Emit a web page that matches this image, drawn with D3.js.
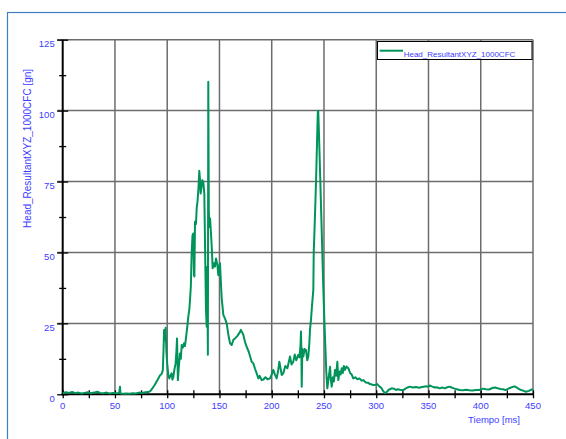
<!DOCTYPE html>
<html>
<head>
<meta charset="utf-8">
<script src="https://cdn.jsdelivr.net/npm/d3@7"></script>
<style>
  html, body { margin: 0; padding: 0; background: #fff; }
  svg { display: block; }
  text { font-family: "Liberation Sans", Arial, sans-serif; }
</style>
</head>
<body>
<svg id="chart" width="566" height="439"></svg>
<script>
// Head resultant acceleration (CFC 1000) versus time
const seriesName = "Head_ResultantXYZ_1000CFC";
const xTitle = "Tiempo [ms]";
const yTitle = "Head_ResultantXYZ_1000CFC [gn]";

const xTicks = [0, 50, 100, 150, 200, 250, 300, 350, 400, 450];
const yTicks = [0, 25, 50, 75, 100, 125];

// time [ms]
const timeMs = [
  0, 3, 6, 9, 12, 15, 18, 21, 24, 27, 30, 33, 36, 39, 42, 45, 48, 51, 54, 54.8, 55.3, 58, 61, 64, 67, 70, 73, 76, 79, 82,
  84, 86, 88, 90, 91.5, 93, 94.7, 95.8, 96.5, 97, 97.8, 98.5, 99.2, 100, 101, 102, 103, 104.2, 105, 105.8, 106.8, 108, 108.8, 109.4, 110.2,
  111, 112.2, 113, 113.9, 115, 116, 117, 118, 119.2, 120.2, 121.2, 121.8, 122.6, 123.4, 124.2, 125, 125.6, 126, 126.6, 127.5, 128.2, 129,
  129.8, 130.7, 131.3, 132, 132.8, 133.6, 134.5, 135.5, 136.3, 137.1, 137.8, 138.4, 138.9, 139.3, 139.8, 140.3, 141, 141.6, 142.6, 143.5,
  144.8, 145.7, 146.7, 148, 148.9, 149.7, 150.5, 151.3, 152.1, 153.7, 155.5, 156.9, 158.5, 160.1, 161.7, 163.3, 164.9, 167, 169.7, 170.5,
  172.8, 174.4, 176, 178, 180.8, 182.4, 184, 185.6, 187.2, 188.5, 190.4, 192, 194, 196, 198.4, 200, 201.5, 203, 204.7, 206, 207.3, 208.5,
  209.6, 211.1, 213, 215, 217.5, 219, 220.7, 222, 223.5, 225.4, 226.5, 227.5, 228, 228.4, 228.7, 229.3, 230.2, 231.5, 232.8, 234, 235,
  236, 236.6, 237.5, 238.5, 239.8, 240.2, 241.3, 242.4, 243.3, 244.1, 244.5, 245.2, 246.5, 247.5, 248.4, 249.4, 250.7, 251.5, 252.2,
  253.2, 254.2, 255.8, 256.6, 257.4, 258.5, 259.5, 260.5, 261.6, 262.8, 263.7, 265, 266, 267, 268, 269, 270.1, 271.5, 273.3, 275, 276.5,
  278, 280, 282, 284, 286, 287.6, 290, 292, 294, 297.2, 299.1, 301, 303, 305, 306.5, 308.4, 310, 312, 314.8, 317, 319, 320.5, 322.7,
  325.6, 328, 330, 332, 335, 338, 341, 344, 347.9, 350, 351.2, 353, 356, 358, 360.7, 363, 366, 368, 370.3, 372, 375, 377, 379.9, 383,
  386, 389, 392, 395.7, 398.6, 402.2, 405, 408, 411.7, 414, 416, 419, 421.3, 423.6, 426, 429, 432.1, 434, 436, 438, 440.4, 443.3, 446,
  448, 450
];

// acceleration [gn]
const accelG = [
  0.4, 0.7, 0.5, 0.8, 0.4, 0.6, 0.3, 0.5, 0.7, 0.4, 0.6, 0.9, 0.5, 0.4, 0.6, 0.3, 0.5, 0.4, 0.5, 2.7, 0.3, 0.2, 0.3, 0.2, 0.4, 0.3, 0.6, 0.5, 0.7, 0.8,
  1.2, 2.2, 3.3, 4.6, 5.6, 6.6, 7.2, 8.5, 16, 22.7, 19, 23.5, 15, 10.9, 7, 5.6, 6.5, 7.4, 5.2, 6.0, 8.5, 10.9, 15, 19.7, 5,
  9, 14.4, 12.5, 17.4, 16.5, 18, 17, 20, 23.8, 27.4, 30, 33.2, 38, 49.7, 56, 56.7, 42, 41.5, 60.8, 60, 65.6, 68,
  72, 78.8, 76, 70.8, 73, 75.5, 74.9, 70.8, 50, 29.7, 23.8, 45, 13.9, 110.2, 65, 59, 62, 58.5, 52, 44.4,
  46.2, 45, 47.9, 45.6, 42, 45, 46.2, 40, 34, 28, 26.5, 25, 21, 18, 17.4, 19.2, 19.7, 20.5, 22, 22.7,
  21, 18.5, 16.8, 15, 11.5, 10.9, 9, 7.4, 5.6, 6.5, 5, 5.2, 6, 5.3, 5.6, 7, 8.6, 7, 5.6, 8, 11.5, 9,
  6.8, 7.4, 10, 9.2, 13.3, 10.5, 11.5, 14, 12, 13.9, 13, 17, 22.1, 15, 2.7, 16, 13.3, 16, 15.6, 12, 13.3,
  18, 22.7, 26, 31, 36.8, 50, 62, 75, 88, 99.5, 99.9, 92, 75, 62, 50, 36.8, 22.7, 15, 8,
  2.1, 5, 9.7, 5, 2.7, 6, 4.5, 8.6, 6.5, 11.5, 5, 8, 7, 9.2, 7.5, 10, 8.6, 9.8, 9.2, 7.5, 7,
  5.6, 6, 5.3, 5.6, 4.8, 5, 4.2, 4.1, 3.6, 3.3, 3.3, 3.6, 2.8, 2.2, 1.2, 0.4, 0.8, 1.6, 2.1, 2.0, 1.5, 1.8, 1.6,
  1.4, 2.0, 2.4, 2.7, 2.4, 2.6, 2.3, 2.6, 2.8, 2.7, 3.1, 2.8, 2.4, 2.5, 2.1, 2.4, 2.1, 2.5, 2.7, 2.4, 2.0, 1.8, 1.5, 1.4,
  1.6, 1.4, 1.3, 1.5, 1.5, 2.0, 1.8, 1.7, 2.3, 2.4, 2.1, 1.9, 1.8, 1.5, 1.9, 2.4, 2.8, 2.5, 2.0, 1.6, 1.3, 0.9, 1.2,
  1.6, 1.8
];

const green = "#00945a";
const blue = "#3c3cff";
const frameBlue = "#3f7fc4";
const gridGray = "#6c6c6c";

const svg = d3.select("#chart");

// outer panel frame
svg.append("rect")
  .attr("x", 7.5).attr("y", 12.5)
  .attr("width", 620).attr("height", 500)
  .attr("fill", "none").attr("stroke", frameBlue).attr("stroke-width", 1.2);

const x = d3.scaleLinear().domain([0, 450]).range([62.7, 533]);
const y = d3.scaleLinear().domain([0, 125]).range([394.3, 39.7]);

const [x0, x1] = x.range();
const [y0, y1] = y.range();

// grid
const grid = svg.append("g");
grid.selectAll("line.v")
  .data(xTicks.filter(d => d > 0))
  .join("line")
  .attr("x1", d => x(d)).attr("x2", d => x(d))
  .attr("y1", y1).attr("y2", y0)
  .attr("stroke", gridGray).attr("stroke-width", 1.5);
grid.selectAll("line.h")
  .data(yTicks.filter(d => d > 0))
  .join("line")
  .attr("x1", x0 - 5.5).attr("x2", x1)
  .attr("y1", d => y(d)).attr("y2", d => y(d))
  .attr("stroke", gridGray).attr("stroke-width", 1.5);

// axes with cross ticks (major + minor)
const xAxis = d3.axisBottom(x)
  .tickValues(d3.range(0, 451, 25))
  .tickSize(4).tickFormat("");
const gx = svg.append("g").attr("transform", `translate(0,${y0})`).call(xAxis);
gx.select(".domain").remove();
gx.selectAll(".tick line").attr("y1", -4).attr("stroke", "#000").attr("stroke-width", 1.3);

const yAxis = d3.axisLeft(y)
  .tickValues(d3.range(0, 125.1, 12.5))
  .tickSize(3.5).tickFormat("");
const gy = svg.append("g").attr("transform", `translate(${x0},0)`).call(yAxis);
gy.select(".domain").remove();
gy.selectAll(".tick line")
  .attr("x2", d => (d % 25 === 0 ? 5.5 : 3.5))
  .attr("x1", d => (d % 25 === 0 ? -5.5 : -3.5))
  .attr("stroke", "#000").attr("stroke-width", 1.3);

// axis lines
svg.append("line").attr("x1", x0).attr("x2", x0).attr("y1", y1).attr("y2", y0 + 1)
  .attr("stroke", "#000").attr("stroke-width", 2);
svg.append("line").attr("x1", x0 - 1).attr("x2", x1).attr("y1", y0).attr("y2", y0)
  .attr("stroke", "#000").attr("stroke-width", 2);

// tick labels
svg.append("g").selectAll("text")
  .data(xTicks).join("text")
  .attr("x", d => x(d)).attr("y", y0 + 14.7)
  .attr("text-anchor", "middle")
  .attr("font-size", 9.5).attr("fill", blue)
  .text(d => d);
svg.append("g").selectAll("text")
  .data(yTicks).join("text")
  .attr("x", x0 - 8).attr("y", d => y(d) + 7.3)
  .attr("text-anchor", "end")
  .attr("font-size", 9.5).attr("fill", blue)
  .text(d => d);

// axis titles
svg.append("text")
  .attr("x", 520).attr("y", 422.7)
  .attr("text-anchor", "end")
  .attr("font-size", 9.5).attr("fill", blue)
  .text(xTitle);
svg.append("text")
  .attr("transform", "translate(30.5,148.4) rotate(-90)")
  .attr("text-anchor", "middle")
  .attr("font-size", 10).attr("fill", blue)
  .text(yTitle);

// series
const points = timeMs.map((t, i) => [t, accelG[i]]);
const line = d3.line().x(d => x(d[0])).y(d => y(d[1])).curve(d3.curveLinear);
svg.append("path")
  .datum(points)
  .attr("d", line)
  .attr("fill", "none")
  .attr("stroke", green)
  .attr("stroke-width", 2)
  .attr("stroke-linejoin", "round");

// legend
const legend = svg.append("g");
legend.append("rect")
  .attr("x", 377.5).attr("y", 41.5).attr("width", 154.5).attr("height", 18)
  .attr("fill", "#fff").attr("stroke", "#000").attr("stroke-width", 1);
legend.append("line")
  .attr("x1", 379.7).attr("x2", 403).attr("y1", 50.7).attr("y2", 50.7)
  .attr("stroke", green).attr("stroke-width", 2);
legend.append("text")
  .attr("x", 403.7).attr("y", 56.7)
  .attr("font-size", 8).attr("fill", blue)
  .text(seriesName);
</script>
</body>
</html>
